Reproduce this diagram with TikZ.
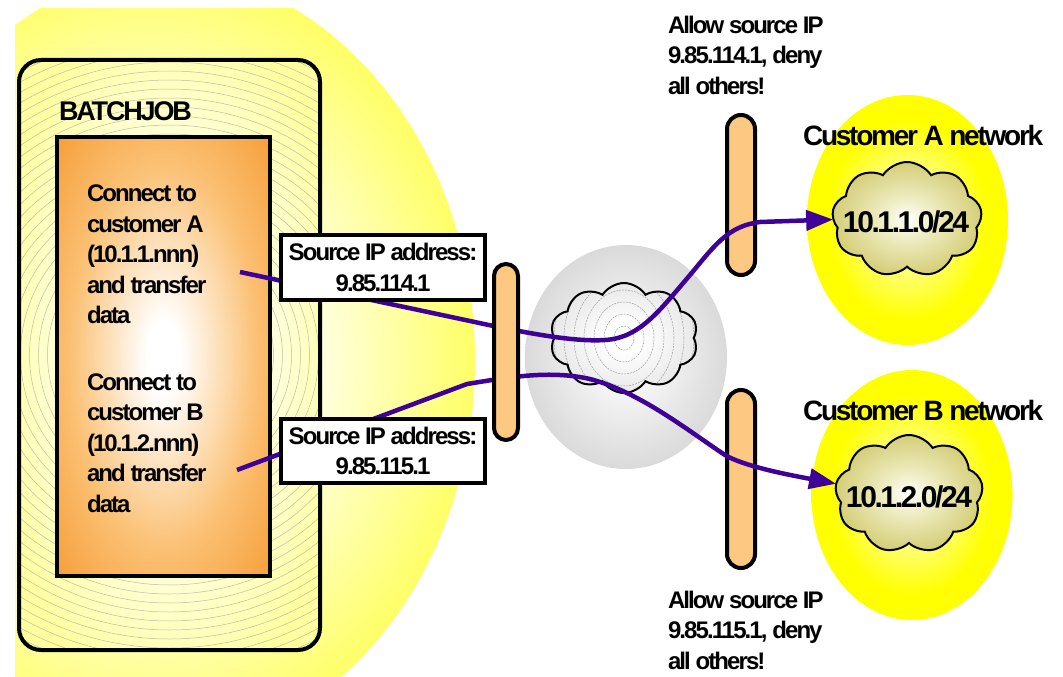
\documentclass[tikz,border=0pt]{standalone}
\usepackage{fontspec}
\setmainfont{Liberation Sans}[LetterSpace=-8]
\usetikzlibrary{shapes.symbols,shapes.geometric,arrows.meta}

\definecolor{purp}{RGB}{62,0,150}
\definecolor{bigY}{RGB}{255,255,102}
\definecolor{bigYin}{RGB}{255,255,235}
\definecolor{batchIn}{RGB}{255,255,232}
\definecolor{batchOut}{RGB}{255,255,160}
\definecolor{ringc}{RGB}{190,190,160}
\definecolor{oraA}{RGB}{251,192,115}
\definecolor{oraB}{RGB}{246,160,60}
\definecolor{grayOut}{RGB}{218,218,218}
\definecolor{grayIn}{RGB}{248,248,248}
\definecolor{grayClOut}{RGB}{232,232,232}
\definecolor{custIn}{RGB}{255,255,200}
\definecolor{custMid}{RGB}{255,255,120}
\definecolor{custOut}{RGB}{255,255,0}
\definecolor{cloudOut}{RGB}{212,206,118}
\definecolor{cloudMid}{RGB}{240,238,200}
\definecolor{pillc}{RGB}{252,200,130}

\pgfdeclareradialshading{bigsh}{\pgfpoint{0bp}{0bp}}{color(0bp)=(white); color(12bp)=(bigYin); color(25bp)=(bigY); color(50bp)=(bigY)}
\pgfdeclareradialshading{batchsh}{\pgfpoint{0bp}{0bp}}{color(0bp)=(batchIn); color(15bp)=(batchIn); color(30bp)=(batchOut); color(50bp)=(batchOut)}
\pgfdeclareradialshading{orash}{\pgfpoint{0bp}{0bp}}{color(0bp)=(white); color(4bp)=(white); color(22bp)=(oraA); color(35bp)=(oraB); color(50bp)=(oraB)}
\pgfdeclareradialshading{graysh}{\pgfpoint{0bp}{0bp}}{color(0bp)=(white); color(6bp)=(grayIn); color(25bp)=(grayOut); color(50bp)=(grayOut)}
\pgfdeclareradialshading{graycl}{\pgfpoint{0bp}{0bp}}{color(0bp)=(white); color(6bp)=(white); color(25bp)=(grayClOut); color(50bp)=(grayClOut)}
\pgfdeclareradialshading{custsh}{\pgfpoint{0bp}{0bp}}{color(0bp)=(custIn); color(10bp)=(custMid); color(20bp)=(custOut); color(50bp)=(custOut)}
\pgfdeclareradialshading{cloudsh}{\pgfpoint{0bp}{0bp}}{color(0bp)=(white); color(8bp)=(cloudMid); color(25bp)=(cloudOut); color(50bp)=(cloudOut)}

\begin{document}
\begin{tikzpicture}[x=1pt,y=-1pt,
  txt/.style={inner sep=0pt, outer sep=0pt, font=\bfseries\fontsize{24}{30.5}\selectfont, align=left},
  pill/.style={draw, line width=4pt, fill=pillc, rounded corners=14pt, inner sep=0pt, outer sep=0pt},
  srcbox/.style={draw, line width=4pt, fill=white, inner sep=0pt, minimum width=204pt, minimum height=65pt, align=center, font=\bfseries\fontsize{24}{30.5}\selectfont},
  conn/.style={draw=purp, line width=4.5pt, line join=round},
  tip/.style={-{Triangle[length=27pt,width=20pt]}},
  netcloud/.style={cloud, cloud puffs=9, cloud puff arc=115, cloud ignores aspect, draw, line width=2pt, shade, shading=cloudsh, inner sep=0pt, outer sep=0pt},
  custell/.style={ellipse, shade, shading=custsh, inner sep=0pt, outer sep=0pt, minimum width=201pt, minimum height=250pt}
]
\useasboundingbox (0,0) rectangle (1063,677);

% big yellow background
\begin{scope}
\clip (15,25) -- (40,8) -- (1063,8) -- (1063,677) -- (15,677) -- cycle;
\shade[shading=bigsh] (150,360) ellipse [x radius=325, y radius=392];
\end{scope}

% batch box
\node[draw, line width=4pt, rounded corners=22pt, minimum width=301pt, minimum height=590pt, inner sep=0pt, shade, shading=batchsh,
  path picture={\foreach \r in {14,23,...,460} \draw[ringc, line width=0.5pt] (path picture bounding box.center) circle [radius=\r pt];}] (batch) at (169.5,355) {};
\node[draw, line width=4pt, minimum width=213pt, minimum height=439pt, inner sep=0pt, shade, shading=orash] (job) at (163.5,356.5) {};

\node[txt, anchor=base west, font=\bfseries\fontsize{27}{30}\selectfont] (batchlbl) at (59,121) {BATCHJOB};
\node[txt, anchor=north west] (taskA) at (87,180.15) {\strut Connect to\\customer A\\(10.1.1.nnn)\\and transfer\\data};
\node[txt, anchor=north west] (taskB) at (87,368.65) {\strut Connect to\\customer B\\(10.1.2.nnn)\\and transfer\\data};

% internet
\node[ellipse, minimum width=202pt, minimum height=224pt, inner sep=0pt, shade, shading=graysh] (inet) at (626,357) {};
\node[cloud, cloud puffs=10, cloud puff arc=115, cloud ignores aspect, draw, line width=2pt, shade, shading=graycl, inner sep=0pt,
  minimum width=148pt, minimum height=110pt,
  path picture={\foreach \k in {1,...,9} \draw[gray!75, line width=0.5pt, dash pattern=on 2pt off 1pt] (path picture bounding box.center) ellipse [x radius=10*\k pt, y radius=12*\k pt];}] (inetcloud) at (624,338) {};

% firewalls at customers
\node[pill, minimum width=28pt, minimum height=160pt] (fwA) at (741,195) {};
\node[pill, minimum width=28pt, minimum height=178pt] (fwB) at (741,479) {};

% customer networks
\node[custell] (custA) at (907.5,220) {};
\node[custell] (custB) at (912,495) {};
\node[netcloud, minimum width=150pt, minimum height=115pt] (cloudA) at (907,219.5) {};
\node[netcloud, minimum width=148pt, minimum height=118pt] (cloudB) at (909,494) {};
\node[txt, anchor=base, font=\bfseries\fontsize{30}{36}\selectfont] (ipA) at (906,232) {10.1.1.0/24};
\node[txt, anchor=base, font=\bfseries\fontsize{30}{36}\selectfont] (ipB) at (909,507) {10.1.2.0/24};
\node[txt, anchor=base west, font=\bfseries\fontsize{28}{32}\selectfont] (custAlbl) at (803,145) {Customer A network};
\node[txt, anchor=base west, font=\bfseries\fontsize{28}{32}\selectfont] (custBlbl) at (803,420) {Customer B network};

% connections
\coordinate (a0) at (240,272);
\coordinate (b0) at (237,470);
\draw[conn, tip] (a0) -- (470,321) .. controls (530,334) and (575,342) .. (605,340)
  .. controls (640,338) and (660,310) .. (690,275)
  .. controls (715,245) and (728,226) .. (760,222) -- (cloudA.west);
\draw[conn, tip] (b0) -- (467,384) .. controls (510,377) and (550,370) .. (590,379)
  .. controls (640,392) and (690,432) .. (725,455)
  .. controls (745,467) and (795,476) .. (cloudB.172);

% source address boxes
\node[srcbox] (src1) at (383,267.5) {Source IP address:\\9.85.114.1};
\node[srcbox, minimum height=64pt] (src2) at (383,451) {Source IP address:\\9.85.115.1};

% middle firewall
\node[pill, minimum width=24pt, minimum height=176pt, rounded corners=12pt] (fwM) at (506,352) {};

% rules
\node[txt, anchor=north west] (ruleA) at (668,11.95) {\strut Allow source IP\\9.85.114.1, deny\\all others!};
\node[txt, anchor=north west] (ruleB) at (668,586.65) {\strut Allow source IP\\9.85.115.1, deny\\all others!};
\end{tikzpicture}
\end{document}
